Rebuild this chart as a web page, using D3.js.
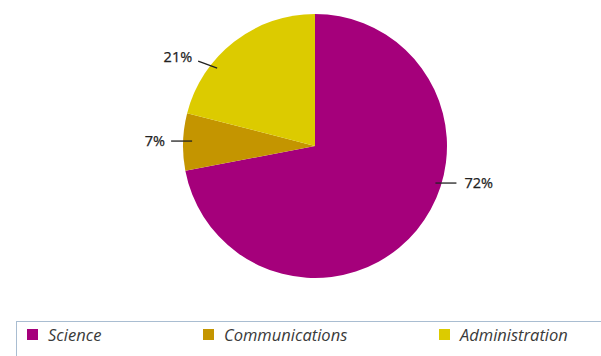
<!DOCTYPE html>
<html>
<head>
<meta charset="utf-8">
<script src="https://cdn.jsdelivr.net/npm/d3@7"></script>
<style>
  html, body { margin: 0; padding: 0; background: #fff; }
  svg { display: block; }
</style>
</head>
<body>
<svg id="chart" width="601" height="356"></svg>
<script>
// Budget split by area
const categories = ["Science", "Communications", "Administration"];
const shares = [72, 7, 21];
const labels = ["72%", "7%", "21%"];
const colors = ["#a5007b", "#c49500", "#dccb00"];

const svg = d3.select("#chart");
const cx = 315, cy = 146, radius = 132;

const pie = d3.pie().sort(null).value(d => d.value);
const arcs = pie(categories.map((c, i) => ({ name: c, value: shares[i] })));
const arc = d3.arc().innerRadius(0).outerRadius(radius);
const color = d3.scaleOrdinal().domain(categories).range(colors);

const g = svg.append("g").attr("transform", `translate(${cx},${cy})`);
g.selectAll("path.slice")
  .data(arcs)
  .join("path")
  .attr("class", "slice")
  .attr("d", arc)
  .attr("fill", d => color(d.data.name));

// Leader lines: anchor angle (deg, clockwise from top), anchor radius, line offset
const leaderLayout = [
  { angle: 107.1, r: 126, dx: 21, dy: 0, side: "right" },
  { angle: 272.3, r: 123, dx: -21, dy: 0, side: "left" },
  { angle: 308.5, r: 125, dx: -19, dy: -7, side: "left" }
];

function polar(angleDeg, r) {
  const a = angleDeg * Math.PI / 180;
  return [r * Math.sin(a), -r * Math.cos(a)];
}

arcs.forEach((d, i) => {
  const L = leaderLayout[i];
  const [x0, y0] = polar(L.angle, L.r);
  const x1 = x0 + L.dx, y1 = y0 + L.dy;
  g.append("line")
    .attr("x1", x0).attr("y1", y0)
    .attr("x2", x1).attr("y2", y1)
    .attr("stroke", "#222")
    .attr("stroke-width", 1.3);
  g.append("text")
    .attr("x", L.side === "right" ? x1 + 8 : x1 - 6)
    .attr("y", y1 - (L.dy !== 0 ? 4 : 0))
    .attr("dy", "0.35em")
    .attr("text-anchor", L.side === "right" ? "start" : "end")
    .attr("font-family", "'Open Sans', sans-serif")
    .attr("font-size", 14.5)
    .attr("fill", "#222")
    .attr("stroke", "#222")
    .attr("stroke-width", 0.25)
    .text(labels[i]);
});

// Legend
const legend = svg.append("g");
legend.append("rect")
  .attr("x", 16.5).attr("y", 321.5)
  .attr("width", 620).attr("height", 60)
  .attr("fill", "none")
  .attr("stroke", "#a9bdd1")
  .attr("stroke-width", 1);

const legendX = d3.scaleOrdinal().domain(categories).range([27, 203, 439]);
const items = legend.selectAll("g.item")
  .data(categories)
  .join("g")
  .attr("class", "item")
  .attr("transform", d => `translate(${legendX(d)},329)`);
items.append("rect")
  .attr("width", 11).attr("height", 11)
  .attr("fill", d => color(d));
items.append("text")
  .attr("x", 21).attr("y", 6)
  .attr("dy", "0.35em")
  .attr("font-family", "'Open Sans', sans-serif")
  .attr("font-style", "italic")
  .attr("font-size", 16.5)
  .attr("fill", "#3a3a3a")
  .text(d => d);
</script>
</body>
</html>
